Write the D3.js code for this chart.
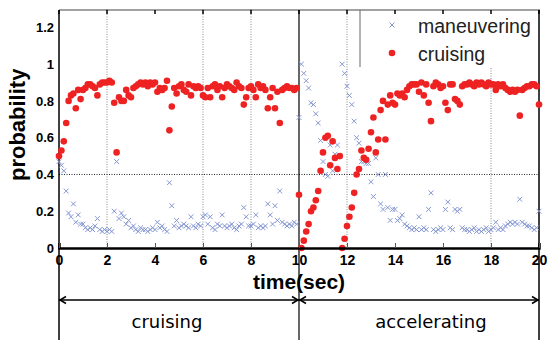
<!DOCTYPE html>
<html>
<head>
<meta charset="utf-8">
<script src="https://cdn.jsdelivr.net/npm/d3@7"></script>
<style>
  body { margin: 0; background: #fff; }
  svg { display: block; }
</style>
</head>
<body>
<svg id="chart" width="549" height="340"></svg>
<script>
// sampling of both series: one value every 0.1 s, from 0 to 20 s
const t0 = 0, dt = 0.1;

// probability of "cruising" (red dots), one row per second
const cruising = [
  0.50, 0.53, 0.58, 0.68, 0.80, 0.83, 0.84, 0.76, 0.86, 0.81,
  0.86, 0.87, 0.89, 0.89, 0.88, 0.87, 0.83, 0.89, 0.90, 0.90,
  0.90, 0.91, 0.90, 0.79, 0.52, 0.82, 0.80, 0.80, 0.86, 0.83,
  0.82, 0.87, 0.88, 0.89, 0.90, 0.89, 0.90, 0.88, 0.90, 0.89,
  0.90, 0.85, 0.87, 0.86, 0.87, 0.91, 0.64, 0.77, 0.87, 0.84,
  0.88, 0.89, 0.86, 0.85, 0.89, 0.83, 0.88, 0.87, 0.88, 0.87,
  0.83, 0.82, 0.87, 0.82, 0.88, 0.89, 0.86, 0.88, 0.82, 0.87,
  0.89, 0.88, 0.87, 0.86, 0.90, 0.88, 0.87, 0.78, 0.82, 0.87,
  0.88, 0.86, 0.82, 0.89, 0.87, 0.88, 0.86, 0.76, 0.82, 0.87,
  0.76, 0.85, 0.68, 0.86, 0.87, 0.88, 0.87, 0.87, 0.86, 0.87,
  0.29, 0.00, 0.04, 0.09, 0.13, 0.20, 0.22, 0.26, 0.31, 0.42,
  0.52, 0.60, 0.61, 0.45, 0.58, 0.49, 0.43, 0.50, 0.00, 0.05,
  0.12, 0.17, 0.22, 0.30, 0.40, 0.43, 0.53, 0.49, 0.48, 0.54,
  0.63, 0.71, 0.52, 0.59, 0.75, 0.80, 0.59, 0.78, 0.83, 0.79,
  0.78, 0.84, 0.83, 0.84, 0.82, 0.86, 0.88, 0.89, 0.89, 0.89,
  0.85, 0.90, 0.83, 0.89, 0.79, 0.69, 0.88, 0.90, 0.89, 0.87,
  0.88, 0.79, 0.75, 0.89, 0.89, 0.81, 0.80, 0.78, 0.88, 0.89,
  0.89, 0.90, 0.89, 0.88, 0.90, 0.89, 0.90, 0.89, 0.88, 0.90,
  0.89, 0.89, 0.86, 0.89, 0.88, 0.89, 0.87, 0.86, 0.85, 0.86,
  0.85, 0.86, 0.72, 0.86, 0.87, 0.88, 0.88, 0.89, 0.89, 0.88,
  0.78
];

// probability of "maneuvering" (blue crosses)
const maneuvering = [
  0.47, 0.45, 0.42, 0.31, 0.19, 0.17, 0.24, 0.14, 0.18, 0.13,
  0.13, 0.11, 0.10, 0.11, 0.10, 0.12, 0.16, 0.10, 0.09, 0.10,
  0.09, 0.10, 0.09, 0.20, 0.47, 0.16, 0.19, 0.17, 0.13, 0.15,
  0.11, 0.12, 0.10, 0.09, 0.11, 0.10, 0.10, 0.09, 0.10, 0.11,
  0.10, 0.14, 0.11, 0.12, 0.10, 0.09, 0.355, 0.23, 0.12, 0.15,
  0.11, 0.12, 0.13, 0.12, 0.11, 0.17, 0.12, 0.11, 0.13, 0.12,
  0.17, 0.18, 0.13, 0.17, 0.11, 0.10, 0.13, 0.12, 0.18, 0.12,
  0.11, 0.12, 0.13, 0.11, 0.10, 0.12, 0.13, 0.22, 0.17, 0.12,
  0.12, 0.13, 0.18, 0.11, 0.12, 0.11, 0.12, 0.24, 0.18, 0.13,
  0.23, 0.15, 0.31, 0.14, 0.13, 0.12, 0.13, 0.12, 0.14, 0.13,
  0.71, 1.00, 0.95, 0.91, 0.87, 0.79, 0.78, 0.73, 0.68, 0.585,
  0.47, 0.40, 0.39, 0.56, 0.42, 0.51, 0.56, 0.50, 1.00, 0.95,
  0.88, 0.83, 0.78, 0.69, 0.60, 0.57, 0.47, 0.47, 0.46, 0.46,
  0.36, 0.28, 0.49, 0.40, 0.24, 0.21, 0.40, 0.22, 0.15, 0.21,
  0.21, 0.15, 0.16, 0.18, 0.13, 0.12, 0.11, 0.10, 0.11, 0.10,
  0.17, 0.10, 0.11, 0.10, 0.21, 0.30, 0.10, 0.09, 0.10, 0.11,
  0.10, 0.21, 0.25, 0.11, 0.10, 0.21, 0.20, 0.21, 0.11, 0.10,
  0.10, 0.09, 0.10, 0.11, 0.09, 0.10, 0.09, 0.10, 0.11, 0.09,
  0.10, 0.11, 0.14, 0.10, 0.11, 0.10, 0.12, 0.13, 0.14, 0.13,
  0.14, 0.13, 0.265, 0.14, 0.13, 0.12, 0.12, 0.11, 0.10, 0.11,
  0.20
];

const xTicks = [0, 2, 4, 6, 8, 10, 12, 14, 16, 18, 20];
const yTicks = [0, 0.2, 0.4, 0.6, 0.8, 1, 1.2];
const yTickLabels = ["0", "0.2", "0.4", "0.6", "0.8", "1", "1.2"];
const xGrid = [2, 6, 8, 12];
const legendNames = ["maneuvering", "cruising"];
const phases = [
  {name: "cruising", from: 0, to: 10, labelAt: 4.5},
  {name: "accelerating", from: 10, to: 20, labelAt: 15.5}
];

const RED = "#ee2222";
const BLUE = "#8597d2";

const svg = d3.select("#chart");

const x = d3.scaleLinear().domain([0, 20]).range([59, 539]);
const y = d3.scaleLinear().domain([0, 1.3]).range([248, 9]);

const crossPath = "M-2.4,-2.4L2.4,2.4M-2.4,2.4L2.4,-2.4";

// grid lines
svg.append("g").selectAll("line")
  .data(xGrid)
  .enter().append("line")
  .attr("x1", d => x(d)).attr("x2", d => x(d))
  .attr("y1", y(1.3)).attr("y2", y(0))
  .attr("stroke", "#888").attr("stroke-width", 1)
  .attr("stroke-dasharray", "1,1.5");

svg.append("line")
  .attr("x1", x(18)).attr("x2", x(18))
  .attr("y1", 68).attr("y2", y(0))
  .attr("stroke", "#888").attr("stroke-dasharray", "1,1.5");

svg.append("line")
  .attr("x1", x(0)).attr("x2", x(20))
  .attr("y1", y(0.4)).attr("y2", y(0.4))
  .attr("stroke", "#222").attr("stroke-dasharray", "1,1.5");

// frame
svg.append("line")
  .attr("x1", x(0)).attr("x2", x(20) + 1)
  .attr("y1", 10).attr("y2", 10)
  .attr("stroke", "#444").attr("stroke-width", 1.2);

[0, 10, 20].forEach(t => {
  svg.append("line")
    .attr("x1", x(t)).attr("x2", x(t))
    .attr("y1", 10).attr("y2", 340)
    .attr("stroke", "#000").attr("stroke-width", t == 10 ? 1.2 : 1.5);
});

// top ticks
svg.append("g").selectAll("line")
  .data(xTicks)
  .enter().append("line")
  .attr("x1", d => x(d)).attr("x2", d => x(d))
  .attr("y1", 10).attr("y2", 14)
  .attr("stroke", "#000").attr("stroke-width", 1.5);

// legend box edge
svg.append("line")
  .attr("x1", 360).attr("x2", 360)
  .attr("y1", 10).attr("y2", 67)
  .attr("stroke", "#666");

// series
const blue = maneuvering.map((v, i) => [t0 + i * dt, v]);
const red = cruising.map((v, i) => [t0 + i * dt, v]);

svg.append("g").selectAll("path")
  .data(blue)
  .enter().append("path")
  .attr("d", crossPath)
  .attr("transform", d => `translate(${x(d[0])},${y(d[1])})`)
  .attr("stroke", BLUE).attr("stroke-width", 1).attr("fill", "none");

svg.append("g").selectAll("circle")
  .data(red)
  .enter().append("circle")
  .attr("cx", d => x(d[0])).attr("cy", d => y(d[1]))
  .attr("r", 3.3)
  .attr("fill", RED);

// axes
const xAxis = svg.append("g")
  .attr("transform", `translate(0,${y(0)})`)
  .call(d3.axisBottom(x).tickValues(xTicks).tickSize(-5).tickPadding(7)
    .tickFormat(d => String(d)));
xAxis.select(".domain").attr("stroke", "#000").attr("stroke-width", 2.5);
xAxis.selectAll(".tick line").attr("stroke", "#555");
xAxis.selectAll("text")
  .attr("font-family", "Liberation Sans, Arial, sans-serif")
  .attr("font-size", 14).attr("font-weight", "bold").attr("fill", "#000");

const yAxis = svg.append("g")
  .attr("transform", `translate(${x(0)},0)`)
  .call(d3.axisLeft(y).tickValues(yTicks).tickSize(0).tickPadding(5)
    .tickFormat((d, i) => yTickLabels[i]));
yAxis.select(".domain").remove();
yAxis.selectAll("text")
  .attr("font-family", "Liberation Sans, Arial, sans-serif")
  .attr("font-size", 13).attr("font-weight", "bold").attr("fill", "#000");

// axis titles
svg.append("text")
  .attr("x", x(10)).attr("y", 289)
  .attr("text-anchor", "middle")
  .attr("font-family", "Liberation Sans, Arial, sans-serif")
  .attr("font-size", 21).attr("font-weight", "bold")
  .text("time(sec)");

svg.append("text")
  .attr("transform", `translate(25,${y(0.67)}) rotate(-90)`)
  .attr("text-anchor", "middle")
  .attr("font-family", "Liberation Sans, Arial, sans-serif")
  .attr("font-size", 22).attr("font-weight", "bold")
  .text("probability");

// legend
const legend = svg.append("g");
legend.append("path")
  .attr("d", crossPath)
  .attr("transform", "translate(392,25)")
  .attr("stroke", BLUE).attr("fill", "none");
legend.append("circle")
  .attr("cx", 392).attr("cy", 53).attr("r", 3.3)
  .attr("fill", RED);
legend.selectAll("text")
  .data(legendNames)
  .enter().append("text")
  .attr("x", 418).attr("y", (d, i) => 33 + i * 28)
  .attr("font-family", "Liberation Sans, Arial, sans-serif")
  .attr("font-size", 19.5).attr("fill", "#222")
  .text(d => d);

// phase annotation with arrows
const arrowY = 300;
svg.append("line")
  .attr("x1", x(0)).attr("x2", x(20))
  .attr("y1", arrowY).attr("y2", arrowY)
  .attr("stroke", "#000").attr("stroke-width", 1.5);

const heads = svg.append("g");
phases.forEach(p => {
  const a = x(p.from), b = x(p.to);
  heads.append("path")
    .attr("d", `M${a + 7},${arrowY - 3.5}L${a + 1},${arrowY}L${a + 7},${arrowY + 3.5}`)
    .attr("stroke", "#000").attr("stroke-width", 1.5).attr("fill", "none");
  heads.append("path")
    .attr("d", `M${b - 7},${arrowY - 3.5}L${b - 1},${arrowY}L${b - 7},${arrowY + 3.5}`)
    .attr("stroke", "#000").attr("stroke-width", 1.5).attr("fill", "none");
  svg.append("text")
    .attr("x", x(p.labelAt)).attr("y", 328)
    .attr("text-anchor", "middle")
    .attr("font-family", "DejaVu Sans, sans-serif")
    .attr("font-size", 18).attr("fill", "#000")
    .text(p.name);
});
</script>
</body>
</html>
